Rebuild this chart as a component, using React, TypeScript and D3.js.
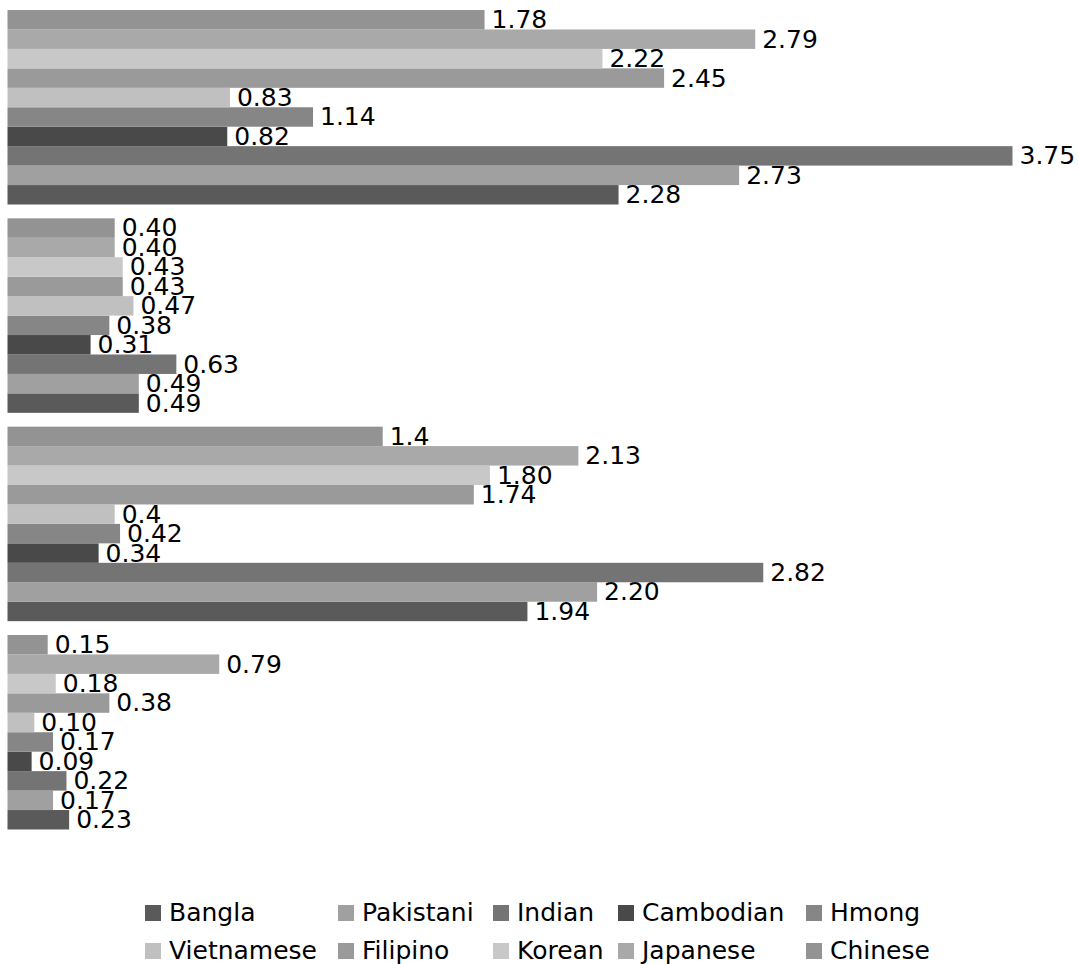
import React from "react";
import * as d3 from "d3";

// Series, in legend order (first series is drawn at the bottom of each group)
const seriesNames = [
  "Bangla",
  "Pakistani",
  "Indian",
  "Cambodian",
  "Hmong",
  "Vietnamese",
  "Filipino",
  "Korean",
  "Japanese",
  "Chinese",
];

const seriesColors = [
  "#5a5a5a",
  "#a0a0a0",
  "#747474",
  "#494949",
  "#868686",
  "#c0c0c0",
  "#9a9a9a",
  "#c8c8c8",
  "#a9a9a9",
  "#939393",
];

// Groups from top to bottom
const categories = ["Group A", "Group B", "Group C", "Group D"];

// Values per group, one per series (Bangla ... Chinese), as printed on the labels
const groupA = ["2.28", "2.73", "3.75", "0.82", "1.14", "0.83", "2.45", "2.22", "2.79", "1.78"];
const groupB = ["0.49", "0.49", "0.63", "0.31", "0.38", "0.47", "0.43", "0.43", "0.40", "0.40"];
const groupC = ["1.94", "2.20", "2.82", "0.34", "0.42", "0.4", "1.74", "1.80", "2.13", "1.4"];
const groupD = ["0.23", "0.17", "0.22", "0.09", "0.17", "0.10", "0.38", "0.18", "0.79", "0.15"];

const groupValues = [groupA, groupB, groupC, groupD];

const xDomain = [0, 4];

const WIDTH = 1078;
const HEIGHT = 964;
const FONT = "'DejaVu Sans', sans-serif";
const FONT_SIZE = 25;

// Legend column offsets (from the legend's left edge) and row layout
const LEGEND_LEFT = 145;
const LEGEND_COLS = [0, 193, 348, 473, 661];
const LEGEND_TOP = 905;
const LEGEND_ROW_STEP = 38;

export default function App() {
  const x = d3.scaleLinear().domain(xDomain).range([7.5, 7.5 + 268 * 4]);

  const y = d3
    .scaleBand<string>()
    .domain(categories)
    .range([3.1, 836.4])
    .paddingInner(0.0664)
    .paddingOuter(0.0332);

  // Last series on top within each group
  const ySub = d3
    .scaleBand<string>()
    .domain([...seriesNames].reverse())
    .range([0, y.bandwidth()]);

  const perRow = 5;
  const square = 16;
  const textGap = 8;
  const rows = [seriesNames.slice(0, perRow), seriesNames.slice(perRow)];

  return (
    <svg
      width={WIDTH}
      height={HEIGHT}
      style={{ position: "absolute", left: 0, top: 0, background: "#ffffff" }}
      fontFamily={FONT}
    >
      <rect width={WIDTH} height={HEIGHT} fill="#ffffff" />
      {categories.map((cat, ci) => (
        <g key={cat} transform={`translate(0,${y(cat)})`}>
          {seriesNames.map((s, si) => {
            const label = groupValues[ci][si];
            const v = +label;
            const top = ySub(s) as number;
            const h = ySub.bandwidth();
            return (
              <g key={s}>
                <rect
                  x={x(0)}
                  y={top}
                  width={x(v) - x(0)}
                  height={h}
                  fill={seriesColors[si]}
                />
                <text
                  x={x(v) + 7}
                  y={top + h / 2 + FONT_SIZE * 0.365 - 0.7}
                  fontSize={FONT_SIZE}
                  fill="#000000"
                >
                  {label}
                </text>
              </g>
            );
          })}
        </g>
      ))}
      <g>
        {rows.map((r, ri) =>
          r.map((name, c) => {
            const si = ri * perRow + c;
            const gx = LEGEND_LEFT + LEGEND_COLS[c];
            const gy = LEGEND_TOP + ri * LEGEND_ROW_STEP;
            return (
              <g key={name} transform={`translate(${gx},${gy})`}>
                <rect width={square} height={square} fill={seriesColors[si]} />
                <text x={square + textGap} y={square} fontSize={FONT_SIZE} fill="#000000">
                  {name}
                </text>
              </g>
            );
          })
        )}
      </g>
    </svg>
  );
}
